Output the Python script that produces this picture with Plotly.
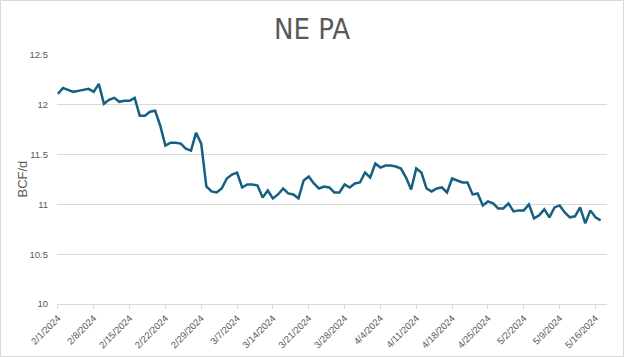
import datetime as dt
import plotly.graph_objects as go

start_date = "2024-02-01"
values = [
    12.11, 12.17, 12.15, 12.13, 12.14, 12.15, 12.16, 12.13, 12.21, 12.01,
    12.05, 12.07, 12.03, 12.04, 12.04, 12.07, 11.89, 11.89, 11.93, 11.94,
    11.79, 11.59, 11.62, 11.62, 11.61, 11.56, 11.54, 11.72, 11.61, 11.18,
    11.13, 11.12, 11.16, 11.26, 11.30, 11.32, 11.17, 11.20, 11.20, 11.19,
    11.07, 11.14, 11.06, 11.10, 11.16, 11.11, 11.10, 11.06, 11.24, 11.28,
    11.21, 11.16, 11.18, 11.17, 11.12, 11.12, 11.20, 11.17, 11.21, 11.22,
    11.32, 11.27, 11.41, 11.37, 11.39, 11.39, 11.38, 11.36, 11.27, 11.15,
    11.36, 11.32, 11.16, 11.13, 11.16, 11.17, 11.12, 11.26, 11.24, 11.22,
    11.22, 11.10, 11.11, 10.99, 11.03, 11.01, 10.96, 10.96, 11.01, 10.93,
    10.94, 10.94, 11.00, 10.86, 10.89, 10.95, 10.87, 10.97, 10.99, 10.92,
    10.87, 10.88, 10.97, 10.81, 10.94, 10.87, 10.84,
]
tick_labels = ["2/1/2024", "2/8/2024", "2/15/2024", "2/22/2024", "2/29/2024",
               "3/7/2024", "3/14/2024", "3/21/2024", "3/28/2024", "4/4/2024",
               "4/11/2024", "4/18/2024", "4/25/2024", "5/2/2024", "5/9/2024",
               "5/16/2024"]
y_ticks = [10, 10.5, 11, 11.5, 12, 12.5]
y_tick_labels = ["10", "10.5", "11", "11.5", "12", "12.5"]

d0 = dt.datetime.fromisoformat(start_date)
dates = [d0 + dt.timedelta(days=i) for i in range(len(values))]
tick_vals = [dt.datetime.strptime(t, "%m/%d/%Y") for t in tick_labels]

W, H = 624, 357
ml, mr, mt, mb = 57, 17, 55, 53
pw, ph = W - ml - mr, H - mt - mb

fig = go.Figure()
fig.add_trace(go.Scatter(x=dates, y=values, mode="lines",
                         line=dict(color="#156082", width=2.5),
                         hoverinfo="x+y"))

gray = "#595959"
fig.update_layout(
    width=W, height=H,
    margin=dict(l=ml, r=mr, t=mt, b=mb, autoexpand=False),
    paper_bgcolor="white", plot_bgcolor="white",
    showlegend=False,
    title=dict(text="NE PA", x=0.5, xref="container", xanchor="center",
               y=1 - 29 / H, yanchor="middle",
               font=dict(family="DejaVu Sans Condensed, Liberation Sans, Arial", size=29, color=gray)),
    font=dict(family="Liberation Sans, Arial", color=gray),
    xaxis=dict(
        type="date", automargin=False,
        range=[d0 - dt.timedelta(hours=4), d0 + dt.timedelta(days=107, hours=6)],
        tickvals=tick_vals, ticktext=tick_labels, tickangle=-45,
        tickfont=dict(size=9.5, color=gray),
        showgrid=False, zeroline=False,
        showline=True, linecolor="#d9d9d9", linewidth=1,
        ticks="outside", ticklen=4, tickcolor="#d9d9d9",
    ),
    yaxis=dict(
        range=[10, 12.5], automargin=False,
        tickvals=y_ticks, ticktext=y_tick_labels,
        tickfont=dict(size=9.5, color=gray),
        showgrid=True, gridcolor="#d9d9d9", gridwidth=1,
        zeroline=False, showline=False, ticks="",
        ticklabelstandoff=8,
    ),
    annotations=[dict(text="BCF/d", textangle=-90, showarrow=False,
                      xref="paper", yref="paper",
                      x=(22 - ml) / pw, y=0.5, xanchor="center", yanchor="middle",
                      font=dict(size=13, color=gray))],
    shapes=[dict(type="rect", xref="paper", yref="paper",
                 x0=(0.5 - ml) / pw, x1=(W - 0.5 - ml) / pw,
                 y0=-(mb - 0.5) / ph, y1=(H - mb - 0.5) / ph,
                 line=dict(color="#d9d9d9", width=1), fillcolor="rgba(0,0,0,0)",
                 layer="below")],
)

fig.write_html("out.html", config={"displayModeBar": False},
               post_script="document.body.style.margin='0';document.body.style.overflow='hidden';")
